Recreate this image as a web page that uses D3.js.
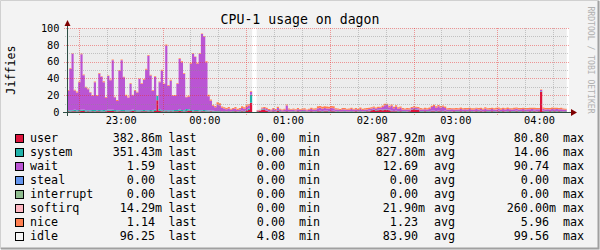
<!DOCTYPE html>
<html lang="en">
<head>
<meta charset="UTF-8" />
<title>CPU-1 usage on dagon</title>
<script src="https://d3js.org/d3.v7.min.js"></script>
<style>
  body { margin: 0; background: #f3f3f3; }
  svg { display: block; font-family: "DejaVu Sans Mono", monospace; }
</style>
</head>
<body>
<svg id="chart" width="600" height="250"></svg>
<script>
/* ---------------- DATA ---------------- */

const startTime = Date.UTC(2012, 0, 1, 22, 21, 30);
const stepMs = 96000; // one sample = 1.6 min

const user = [
  0.8,0.6,0.9,1.0,0.7,0.8,1.5,1.2,0.7,0.8, 0.6,0.9,0.7,0.8,1.0,0.7,0.6,0.8,1.4,1.6,
  1.2,0.9,0.7,0.8,1.0,0.9,0.6,0.7,0.9,1.4, 0.8,0.7,0.6,0.9,1.0,0.8,0.7,0.9,0.6,1.2,
  14,1.5,0.8,0.7,0.9,0.6,0.8,0.7,1.0,0.9, 1.6,0.8,0.7,0.9,1.8,1.2,0.7,0.8,0.9,0.6,
  0.8,1.0,0.7,0.6,
  0.8,0.6,0.5,0.6,0.7,0.5,0.6,0.5,0.7,0.5, 0.6,0.8,0.5,0.6,0.9,0.7,1.6,2.5,11,null,
  null,0.8,1.2,2.8,3.0,1.5,0.6,0.5,0.8,0.6, 1.8,0.7,0.5,0.6,0.8,0.6,0.5,0.7,0.6,0.8,
  0.5,0.6,0.7,0.5,0.6,0.8,0.6,0.7,0.8,0.9, 0.7,0.8,1.0,0.7,0.8,0.9,0.6,0.7,0.5,0.6,
  0.7,0.6,0.5,0.7,0.6,0.8,0.6,0.7,0.5,0.6, 0.8,0.9,2.0,2.4,1.8,2.2,2.6,2.0,2.8,2.4,
  2.2,1.0,0.8,0.9,0.7,0.8,0.6,0.7,0.6,0.8, 2.6,3.2,2.8,2.4,0.7,0.6,0.8,0.6,0.7,0.9,
  0.8,0.7,1.0,0.8,0.7,0.9,0.6,0.7,0.6,0.8, 0.7,0.6,0.8,0.7,0.9,0.6,0.8,0.7,0.6,0.8,
  0.7,0.9,0.6,0.8,0.7,0.6,0.8,0.7,0.6,0.9, 0.7,0.8,0.6,0.7,0.8,0.6,0.7,0.9,0.7,0.6,
  0.8,0.7,0.6,0.8,0.7,0.9,0.6,0.8,24,0.9, 0.7,0.6,0.8,0.7,0.9,0.6,0.8,0.7,0.6,0.7,
  null
];

const system = [
  1.4,1.5,1.3,1.6,1.4,1.5,1.2,1.6,1.4,1.3, 1.5,1.4,1.6,1.3,1.5,1.4,1.7,1.3,1.4,1.2,
  1.5,1.6,1.4,1.3,1.5,1.4,1.6,1.5,1.3,1.4, 1.5,1.4,1.6,1.3,1.5,1.4,1.3,1.5,1.4,1.6,
  5,2.0,1.4,1.5,1.3,1.6,1.4,1.5,1.3,1.4, 1.6,1.5,1.4,2.6,1.5,1.3,1.4,1.6,1.5,1.4,
  1.3,1.5,1.4,1.2,
  1.0,0.8,0.6,0.7,0.6,0.5,0.5,0.4,0.5,0.4, 0.5,0.5,0.4,0.5,0.6,0.5,0.8,1.5,9.5,null,
  null,0.3,0.4,0.5,0.6,0.4,0.4,0.3,0.5,0.4, 0.5,0.4,0.3,0.4,0.5,0.4,0.4,0.5,0.3,0.4,
  0.4,0.5,0.4,0.3,0.4,0.5,0.4,0.4,0.5,0.5, 0.4,0.6,0.5,0.4,0.5,0.6,0.4,0.4,0.3,0.4,
  0.5,0.4,0.4,0.5,0.4,0.5,0.4,0.4,0.3,0.5, 0.4,0.5,0.5,0.6,0.5,0.4,0.5,0.6,0.5,0.6,
  0.5,0.5,0.4,0.6,0.5,0.4,0.5,0.4,0.4,0.5, 0.5,0.6,0.5,0.4,0.4,0.5,0.4,0.5,0.4,0.5,
  0.6,0.5,0.5,0.4,0.5,0.6,0.4,0.5,0.4,0.5, 0.4,0.5,0.4,0.5,0.4,0.5,0.4,0.5,0.4,0.5,
  0.4,0.5,0.4,0.5,0.4,0.5,0.4,0.5,0.4,0.5, 0.4,0.5,0.4,0.5,0.4,0.5,0.4,0.5,0.4,0.5,
  0.4,0.5,0.4,0.5,0.4,0.5,0.4,0.5,0.8,0.5, 0.4,0.5,0.4,0.5,0.4,0.5,0.4,0.5,0.4,0.4,
  null
];

const wait = [
  23,49,67,23,21,33,66,41,27,25, 21,17,33,17,43,40,33,15,40,35,
  59,15,11,47,59,39,17,15,31,17, 23,21,37,31,36,48,65,41,23,39,
  0,32,47,31,77,29,35,17,17,31, 60,57,43,14,15,55,67,63,55,67,
  90.7,87,57,17,
  11.5,6.0,4.5,7.5,6.8,4.0,3.2,2.5,3.0,1.8, 2.4,3.0,1.6,2.2,3.4,2.8,3.5,3.6,3.2,null,
  null,0.6,0.5,1.0,1.2,1.8,1.5,1.2,2.2,1.5, 2.4,1.6,1.2,1.8,6.5,2.0,1.5,1.8,1.3,2.1,
  1.4,1.7,1.9,1.2,1.6,2.2,1.8,2.0,3.2,3.6, 2.8,3.4,2.6,3.0,3.8,2.9,2.0,1.8,1.5,2.2,
  1.9,1.6,1.8,2.3,1.6,2.0,1.5,2.4,1.7,2.0, 1.8,2.2,1.8,2.0,1.6,2.2,1.9,3.5,4.6,5.5,
  3.0,5.8,3.2,4.8,2.6,3.8,2.0,1.8,2.1,1.7, 1.6,1.5,1.8,1.6,2.0,1.8,2.2,1.9,2.4,4.5,
  5.6,3.8,5.4,4.2,5.0,3.4,2.0,1.8,2.2,1.6, 2.0,1.9,2.4,1.7,2.1,1.8,2.3,1.6,2.0,2.5,
  1.8,2.2,1.7,2.6,2.0,1.9,2.3,1.8,2.1,2.4, 1.7,2.2,1.9,2.5,2.0,1.8,2.3,2.6,1.9,2.1,
  2.4,1.8,2.2,2.0,2.5,1.9,2.2,2.0,1.5,2.4, 2.0,2.3,1.8,2.5,2.1,2.4,2.0,2.2,1.9,1.6,
  null
];

const softirq = [
  0,0,0,0.1,0,0,0,0,0,0, 0,0,0,0,0,0.1,0,0,0,0,
  0,0,0,0,0,0,0,0.26,0,0, 0,0,0,0,0,0,0,0,0,0,
  0,0,0,0,0,0,0.1,0,0,0, 0,0,0,0,0,0,0,0,0.1,0,
  0,0,0,0,
  0,0,0,0,0,0,0,0,0,0, 0,0,0,0,0,0,0,0,0.1,null,
  null,0,0,0,0,0,0,0,0,0, 0,0,0,0,0,0,0,0,0,0,
  0,0,0,0,0,0,0,0,0,0, 0,0,0,0,0,0.1,0,0,0,0,
  0,0,0,0,0,0,0,0,0,0, 0,0,0,0,0,0,0,0,0,0,
  0,0,0,0,0.1,0,0,0,0,0, 0,0,0,0,0,0,0,0,0,0,
  0,0,0,0,0,0,0,0,0,0, 0,0,0,0,0,0,0,0,0,0,
  0,0,0,0,0,0,0,0,0.1,0, 0,0,0,0,0,0,0,0,0,0,
  0,0,0,0,0,0,0,0,0,0, 0,0,0,0,0,0,0,0,0,0,
  null
];

const nice = [
  0.9,1.0,0.8,0.7,1.2,0.9,1.0,0.8,1.1,0.9, 0.8,1.0,0.9,0.7,1.0,0.8,1.2,0.9,0.8,1.0,
  0.9,0.8,1.1,0.9,1.0,0.8,1.2,0.9,1.0,0.8, 0.9,1.1,0.8,1.0,0.9,1.2,0.8,0.9,1.0,0.8,
  0.5,0.9,1.0,0.8,1.1,0.9,1.0,0.8,0.9,1.0, 0.8,1.0,0.9,0.8,1.1,1.0,0.9,0.8,1.0,0.9,
  0.8,1.0,1.2,1.6,
  1.5,1.2,1.4,2.8,2.4,1.6,1.5,1.4,1.8,1.2, 1.4,1.6,1.3,1.5,1.9,1.8,2.0,1.6,1.0,null,
  null,0.8,0.6,1.0,1.2,1.3,1.0,1.0,1.4,1.2, 1.5,1.2,0.9,1.1,1.2,1.3,1.0,1.2,1.0,1.4,
  1.1,1.3,1.5,1.0,1.2,1.6,1.3,1.5,2.2,2.0, 2.4,2.1,2.5,2.2,1.9,2.3,1.6,1.4,1.2,1.5,
  1.6,1.3,1.5,1.7,1.2,1.6,1.4,1.8,1.3,1.5, 1.7,1.6,1.5,1.4,1.6,1.5,1.3,1.6,1.8,1.4,
  1.7,1.5,1.8,1.6,1.9,1.5,1.7,1.4,1.6,1.5, 1.3,1.4,1.2,1.5,1.6,1.4,1.7,1.5,1.8,1.6,
  1.5,1.7,1.4,1.8,1.5,1.6,1.5,1.7,1.4,1.6, 1.8,1.5,1.7,1.6,1.4,1.8,1.5,1.7,1.6,1.4,
  1.9,1.5,1.6,1.8,1.5,1.7,1.6,1.4,1.8,1.5, 1.7,1.6,1.5,1.8,1.4,1.7,1.6,1.5,1.8,1.6,
  1.5,1.7,1.6,1.8,1.5,1.7,1.6,1.5,0.4,1.6, 1.8,1.5,1.7,1.6,1.8,1.5,1.7,1.6,1.4,1.2,
  null
];

const legendNames  = ["user", "system", "wait", "steal", "interrupt", "softirq", "nice", "idle"];
const legendColors = ["#dc143c", "#20b2aa", "#ba55d3", "#6495ed", "#8fbc8f", "#ffb6c1", "#ff7f50", "#f5f5f5"];
const lastVals = ["382.86m", "351.43m", "1.59", "0.00", "0.00", "14.29m", "1.14", "96.25"];
const minVals  = ["0.00", "0.00", "0.00", "0.00", "0.00", "0.00", "0.00", "4.08"];
const avgVals  = ["987.92m", "827.80m", "12.69", "0.00", "0.00", "21.90m", "1.23", "83.90"];
const maxVals  = ["80.80", "14.06", "90.74", "0.00", "0.00", "260.00m", "5.96", "99.56"];

const yTicks = [0, 20, 40, 60, 80, 100];

/* ---------------- SETUP ---------------- */

const svg = d3.select("#chart");
const color = d3.scaleOrdinal(legendNames, legendColors);
const idleFill = "#ededed";

const rows = user.map((u, i) => ({
  t0: new Date(startTime + i * stepMs),
  t1: new Date(startTime + (i + 1) * stepMs),
  known: u !== null,
  user: u ?? 0,
  system: system[i] ?? 0,
  wait: wait[i] ?? 0,
  softirq: softirq[i] ?? 0,
  nice: nice[i] ?? 0
}));

const x = d3.scaleUtc()
  .domain([rows[0].t0, rows[rows.length - 1].t1])
  .range([67, 569]);

const y = d3.scaleLinear().domain([0, 100]).range([112, 28]);

/* ---------------- FRAME ---------------- */

svg.append("rect").attr("width", 600).attr("height", 250).attr("fill", "#f3f3f3");
svg.append("path").attr("d", "M0.5,249V0.5H599").attr("fill", "none").attr("stroke", "#d0d0d0");
svg.append("path").attr("d", "M1,248.5H598.5V1").attr("fill", "none").attr("stroke", "#a0a0a0").attr("stroke-width", 2);

// canvas
svg.append("rect")
  .attr("x", x.range()[0]).attr("y", y(100))
  .attr("width", x.range()[1] - x.range()[0]).attr("height", y(0) - y(100))
  .attr("fill", "#ffffff");

/* ---------------- STACKED AREAS ---------------- */

const keys = ["user", "system", "wait", "softirq", "nice"];
const layers = d3.stack().keys(keys)(rows);

function stepPoints(layer, lo, hi) {
  return layer.flatMap(p => [
    { t: p.data.t0, lo: lo(p), hi: hi(p), known: p.data.known },
    { t: p.data.t1, lo: lo(p), hi: hi(p), known: p.data.known }
  ]);
}

const area = d3.area()
  .defined(d => d.known)
  .x(d => x(d.t))
  .y0(d => y(d.lo))
  .y1(d => y(d.hi));

// idle fills the rest up to 100
const topLayer = layers[layers.length - 1];
svg.append("path")
  .attr("d", area(stepPoints(topLayer, p => p[1], () => 100)))
  .attr("fill", idleFill);

svg.selectAll(".layer")
  .data(layers)
  .enter()
  .append("path")
  .attr("class", "layer")
  .attr("d", l => area(stepPoints(l, p => p[0], p => p[1])))
  .attr("fill", l => color(l.key));

/* ---------------- GRID ---------------- */

const grid = svg.append("g").attr("fill", "none").attr("stroke-dasharray", "1,1");
const minorCol = "rgba(140,140,140,0.45)";
const majorCol = "rgba(235,40,40,0.45)";

const minorX = x.ticks(d3.utcMinute.every(10)).filter(d => d.getUTCMinutes() % 20 === 10 && d.getUTCMinutes() !== 30);
const majorX = x.ticks(d3.utcMinute.every(30)).filter(d => d.getUTCMinutes() === 30);

grid.selectAll(".hmin").data(y.ticks(10).filter(v => v % 20 !== 0)).enter()
  .append("line").attr("x1", 65).attr("x2", 569)
  .attr("y1", d => Math.round(y(d)) + 0.5).attr("y2", d => Math.round(y(d)) + 0.5)
  .attr("stroke", minorCol);

grid.selectAll(".vmin").data(minorX).enter()
  .append("line").attr("y1", 28).attr("y2", 114)
  .attr("x1", d => Math.round(x(d)) + 0.5).attr("x2", d => Math.round(x(d)) + 0.5)
  .attr("stroke", minorCol);

grid.selectAll(".hmaj").data(yTicks).enter()
  .append("line").attr("x1", 64).attr("x2", 569)
  .attr("y1", d => Math.round(y(d)) + 0.5).attr("y2", d => Math.round(y(d)) + 0.5)
  .attr("stroke", majorCol);

grid.selectAll(".vmaj").data(majorX).enter()
  .append("line").attr("y1", 28).attr("y2", 115)
  .attr("x1", d => Math.round(x(d)) + 0.5).attr("x2", d => Math.round(x(d)) + 0.5)
  .attr("stroke", majorCol);

/* ---------------- AXES ---------------- */

const axisCol = "#2c4d43";
const arrowCol = "#7f0000";

svg.append("line").attr("x1", 63).attr("x2", 572).attr("y1", 112.5).attr("y2", 112.5).attr("stroke", axisCol);
svg.append("line").attr("x1", 67.5).attr("x2", 67.5).attr("y1", 116).attr("y2", 24).attr("stroke", axisCol);
svg.append("path").attr("d", "M571,109L577,112.5L571,116Z").attr("fill", arrowCol);
svg.append("path").attr("d", "M64.5,26L67.5,20L70.5,26Z").attr("fill", arrowCol);

const xAxis = svg.append("g")
  .attr("transform", "translate(0,112)")
  .call(d3.axisBottom(x)
    .ticks(d3.utcHour.every(1))
    .tickFormat(d3.utcFormat("%H:%M"))
    .tickSize(0)
    .tickPadding(4.7));

const yAxis = svg.append("g")
  .attr("transform", "translate(67,0)")
  .call(d3.axisLeft(y).tickValues(yTicks).tickSize(0).tickPadding(7.5));

[xAxis, yAxis].forEach(g => {
  g.attr("font-family", "DejaVu Sans Mono").attr("font-size", 10.3);
  g.select(".domain").remove();
  g.selectAll("text").attr("fill", "#000");
});

/* ---------------- TEXT ---------------- */

svg.append("text")
  .attr("x", 300).attr("y", 24)
  .attr("text-anchor", "middle")
  .attr("font-size", 13.2)
  .text("CPU-1 usage on dagon");

svg.append("text")
  .attr("transform", "translate(15,70) rotate(-90)")
  .attr("text-anchor", "middle")
  .attr("font-size", 11.7)
  .text("Jiffies");

svg.append("text")
  .attr("transform", "translate(588,60) rotate(90)")
  .attr("text-anchor", "middle")
  .attr("font-size", 8.1)
  .attr("fill", "#b0b0b0")
  .text("RRDTOOL / TOBI OETIKER");

/* ---------------- LEGEND ---------------- */

const legend = svg.append("g").attr("font-size", 11.7);

const legendRows = legend.selectAll(".row")
  .data(legendNames)
  .enter()
  .append("g")
  .attr("class", "row")
  .attr("transform", (d, i) => `translate(0,${142.3 + i * 14})`);

legendRows.append("rect")
  .attr("x", 15.5).attr("y", -7.8)
  .attr("width", 8).attr("height", 8)
  .attr("fill", d => color(d))
  .attr("stroke", "#000");

legendRows.append("text").attr("x", 30).text(d => d);

const columns = [
  { vals: lastVals, numEnd: 155, word: "last", wordX: 168.5 },
  { vals: minVals,  numEnd: 285, word: "min",  wordX: 299 },
  { vals: avgVals,  numEnd: 418, word: "avg",  wordX: 434 },
  { vals: maxVals,  numEnd: 549, word: "max",  wordX: 563 }
];

columns.forEach(c => {
  legendRows.append("text")
    .attr("x", c.numEnd).attr("text-anchor", "end")
    .text((d, i) => c.vals[i].replace(/[a-zA-Z]$/, ""));
  legendRows.append("text")
    .attr("x", c.numEnd)
    .text((d, i) => (c.vals[i].match(/[a-zA-Z]$/) || [""])[0]);
  legendRows.append("text").attr("x", c.wordX).text(c.word);
});
</script>
</body>
</html>
